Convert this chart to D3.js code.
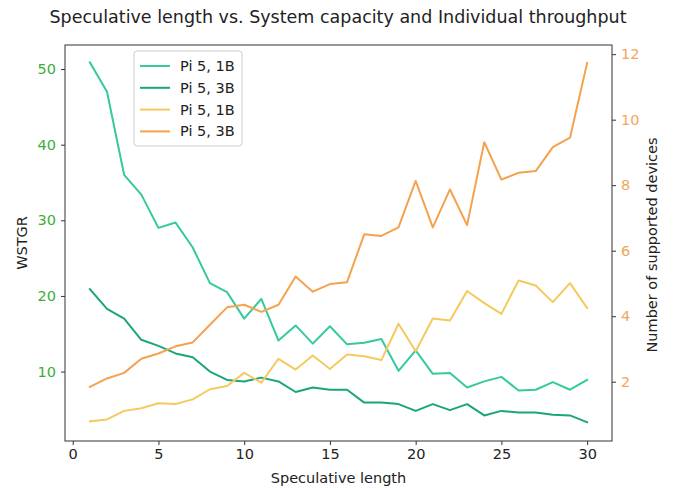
<!DOCTYPE html>
<html><head><meta charset="utf-8">
<script src="https://cdn.jsdelivr.net/npm/d3@7"></script>
<style>body{margin:0;background:#fff;} svg{display:block;font-family:"DejaVu Sans",sans-serif;}</style>
</head><body>
<svg id="c" width="681" height="489"></svg>
<script>
const specLength = d3.range(1, 31);
const wstgr1B = [50.9,47.0,36.0,33.4,29.0,29.7,26.4,21.7,20.5,17.0,19.6,14.1,16.1,13.7,16.0,13.6,13.8,14.3,10.1,12.8,9.7,9.8,7.9,8.7,9.3,7.5,7.6,8.6,7.6,8.9];
const wstgr3B = [20.9,18.3,17.0,14.2,13.4,12.4,11.9,10.0,8.9,8.7,9.2,8.7,7.3,7.9,7.6,7.6,5.9,5.9,5.7,4.8,5.7,4.9,5.7,4.2,4.8,4.6,4.6,4.3,4.2,3.3];
const devices1B = [0.79,0.85,1.11,1.19,1.34,1.32,1.46,1.77,1.87,2.27,1.97,2.70,2.37,2.80,2.39,2.83,2.78,2.66,3.77,2.93,3.93,3.87,4.77,4.40,4.07,5.09,4.94,4.43,5.01,4.25];
const devices3B = [1.84,2.10,2.27,2.70,2.86,3.08,3.20,3.74,4.27,4.35,4.13,4.35,5.21,4.75,4.98,5.04,6.50,6.45,6.71,8.13,6.71,7.87,6.78,9.31,8.17,8.38,8.43,9.16,9.45,11.73];
const seriesNames = ["Pi 5, 1B","Pi 5, 3B","Pi 5, 1B","Pi 5, 3B"];
const seriesColors = ["#35c9a0","#1aa679","#f6c95e","#f5a24e"];
const xTicks = [0,5,10,15,20,25,30];
const leftTicks = [10,20,30,40,50];
const rightTicks = [2,4,6,8,10,12];

const svg = d3.select("#c");
const L=65, R=612, T=45, B=441;
const x = d3.scaleLinear().domain([-0.45,31.45]).range([L,R]);
const yL = d3.scaleLinear().domain([0.82,53.18]).range([B,T]);
const yR = d3.scaleLinear().domain([0.19,12.28]).range([B,T]);

const fs = 14.5;
const gx = svg.append("g").attr("transform",`translate(0,${B})`)
  .call(d3.axisBottom(x).tickValues(xTicks).tickSize(4).tickPadding(4).tickFormat(d3.format("d")));
const gl = svg.append("g").attr("transform",`translate(${L},0)`)
  .call(d3.axisLeft(yL).tickValues(leftTicks).tickSize(4).tickPadding(5).tickFormat(d3.format("d")));
const gr = svg.append("g").attr("transform",`translate(${R},0)`)
  .call(d3.axisRight(yR).tickValues(rightTicks).tickSize(4).tickPadding(5).tickFormat(d3.format("d")));
[gx,gl,gr].forEach(g=>{g.select(".domain").remove(); g.selectAll("text").attr("font-size",fs).attr("font-family","DejaVu Sans"); g.selectAll("line").attr("stroke","#333");});
gx.selectAll("text").attr("fill","#222");
gl.selectAll("text").attr("fill","#3cad3c");
gr.selectAll("text").attr("fill","#f2a65c");

const line = (ys, yS) => d3.line().x((d,i)=>x(specLength[i])).y(d=>yS(d))(ys);
const data = [[wstgr1B,yL],[wstgr3B,yL],[devices1B,yR],[devices3B,yR]];
data.forEach(([ys,yS],i)=>{
  svg.append("path").attr("d",line(ys,yS)).attr("fill","none").attr("stroke",seriesColors[i]).attr("stroke-width",2).attr("stroke-linejoin","round").attr("stroke-linecap","square");
});

svg.append("rect").attr("x",L).attr("y",T).attr("width",R-L).attr("height",B-T).attr("fill","none").attr("stroke","#333").attr("stroke-width",1);

svg.append("text").attr("x",338).attr("y",23).attr("text-anchor","middle").attr("font-size",17.5).attr("fill","#222").text("Speculative length vs. System capacity and Individual throughput");
svg.append("text").attr("x",(L+R)/2).attr("y",483).attr("text-anchor","middle").attr("font-size",fs).attr("fill","#222").text("Speculative length");
svg.append("text").attr("transform",`translate(27,${(T+B)/2}) rotate(-90)`).attr("text-anchor","middle").attr("font-size",fs).attr("fill","#222").text("WSTGR");
svg.append("text").attr("transform",`translate(657,${(T+B)/2+2}) rotate(-90)`).attr("text-anchor","middle").attr("font-size",fs).attr("fill","#222").text("Number of supported devices");

const lg = svg.append("g");
lg.append("rect").attr("x",134).attr("y",51).attr("width",108).attr("height",95).attr("rx",3).attr("fill","#fff").attr("fill-opacity",0.8).attr("stroke","#ccc");
seriesNames.forEach((n,i)=>{
  const yy = 66 + i*21.8;
  lg.append("line").attr("x1",140).attr("x2",170).attr("y1",yy).attr("y2",yy).attr("stroke",seriesColors[i]).attr("stroke-width",2);
  lg.append("text").attr("x",180).attr("y",yy+5).attr("font-size",fs).attr("fill","#222").text(n);
});
</script>
</body></html>
